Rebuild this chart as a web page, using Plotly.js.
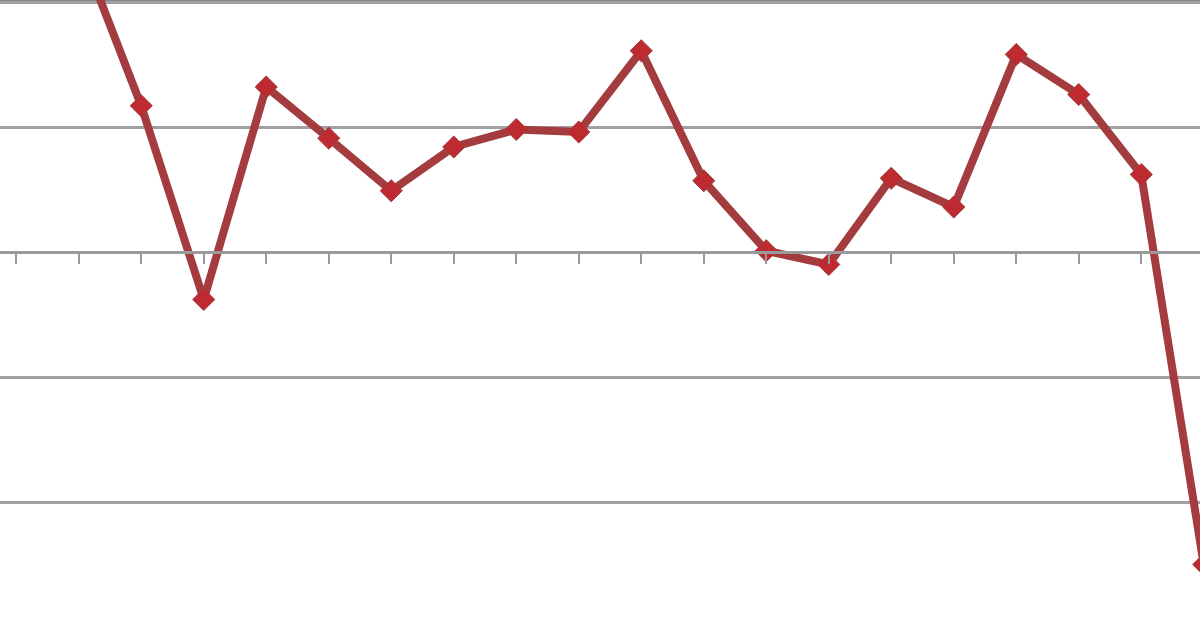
<!DOCTYPE html>
<html>
<head>
<meta charset="utf-8">
<script src="https://cdn.plot.ly/plotly-3.0.1.min.js"></script>
<style>html,body{margin:0;padding:0;background:#fff;}#chart{width:1200px;height:618px;}</style>
</head>
<body>
<div id="chart"></div>
<script>
// category positions (tick index) and series values (gridline step = 1)
const periods = [1, 2, 3, 4, 5, 6, 7, 8, 9, 10, 11, 12, 13, 14, 15, 16, 17, 18, 19];
const values = [2.46, 1.17, -0.38, 1.32, 0.91, 0.49, 0.84, 0.98, 0.96, 1.61, 0.57, 0.01, -0.10, 0.59, 0.36, 1.58, 1.26, 0.62, -2.50];

const trace = {
  x: periods,
  y: values,
  type: 'scatter',
  mode: 'lines+markers',
  line: {color: '#a33b3f', width: 8},
  marker: {symbol: 'diamond', size: 17, color: '#bd2a30', line: {color: '#a33b3f', width: 1}},
  hoverinfo: 'skip'
};

const layout = {
  width: 1200, height: 618,
  margin: {l: 0, r: 0, t: 0, b: 0, pad: 0},
  paper_bgcolor: '#ffffff', plot_bgcolor: '#ffffff',
  showlegend: false,
  xaxis: {
    range: [-0.26, 18.94],
    tick0: 0, dtick: 1,
    showgrid: false, zeroline: false,
    showline: true, linecolor: '#9a9a9a', linewidth: 3,
    ticks: 'outside', ticklen: 10, tickwidth: 2, tickcolor: '#9a9a9a',
    showticklabels: false,
    anchor: 'free', position: 0.5922
  },
  yaxis: {
    range: [-2.928, 2.016],
    tick0: 0, dtick: 1,
    showgrid: true, gridcolor: '#a0a0a0', gridwidth: 3,
    zeroline: false, showline: false, ticks: '', showticklabels: false
  },
  shapes: [{type: 'line', xref: 'paper', yref: 'paper', x0: 0, x1: 1, y0: 0.997, y1: 0.997,
            line: {color: '#858585', width: 4}, layer: 'below'}]
};

Plotly.newPlot('chart', [trace], layout, {staticPlot: true, displayModeBar: false});
</script>
</body>
</html>
